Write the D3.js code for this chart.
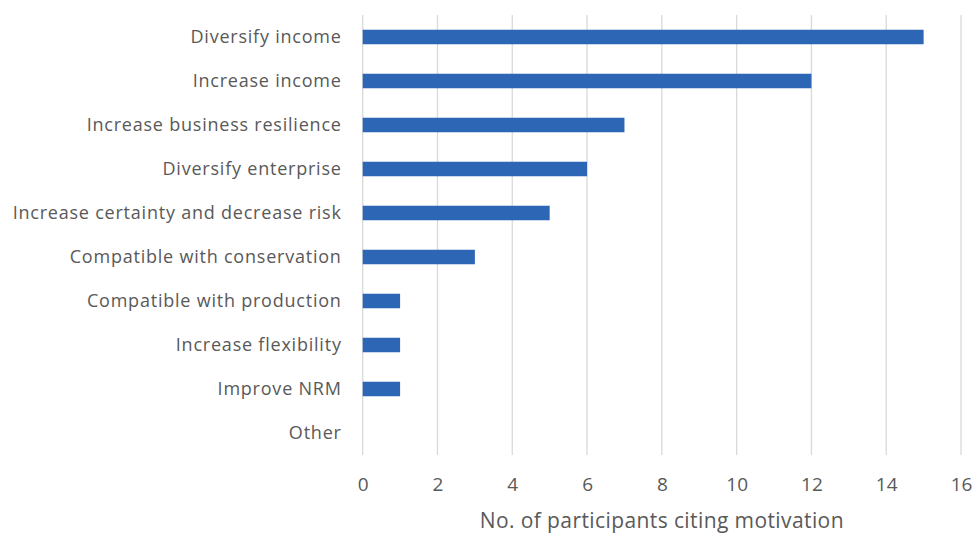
<!DOCTYPE html>
<html><head><meta charset="utf-8">
<script src="https://cdn.jsdelivr.net/npm/d3@7"></script>
<style>html,body{margin:0;padding:0;background:#fff;}svg{display:block;}</style>
</head><body>
<svg id="chart" width="973" height="535"></svg>
<script>
const categories = ["Diversify income","Increase income","Increase business resilience","Diversify enterprise","Increase certainty and decrease risk","Compatible with conservation","Compatible with production","Increase flexibility","Improve NRM","Other"];
const values = [15,12,7,6,5,3,1,1,1,0];
const xTicks = [0,2,4,6,8,10,12,14,16];
const xTitle = "No. of participants citing motivation";

const svg = d3.select("#chart");
const font = "'Open Sans', Lato, sans-serif";
const textColor = "#595959";
const plotLeft = 362.7, plotRight = 961, plotTop = 15, plotBottom = 455;

const x = d3.scaleLinear().domain([0,16]).range([plotLeft,plotRight]);
const y = d3.scaleBand().domain(categories).range([plotTop,plotBottom]).paddingInner(0.67).paddingOuter(0.335);

// gridlines
svg.append("g").selectAll("line").data(xTicks).join("line")
  .attr("x1",d=>x(d)).attr("x2",d=>x(d)).attr("y1",plotTop).attr("y2",plotBottom)
  .attr("stroke","#d9d9d9").attr("stroke-width",1.3);

// bars
svg.append("g").selectAll("rect").data(categories.map((c,i)=>({c,v:values[i]}))).join("rect")
  .attr("x",x(0)).attr("y",d=>y(d.c)).attr("width",d=>x(d.v)-x(0)).attr("height",y.bandwidth())
  .attr("fill","#2E66B6");

// category labels
svg.append("g").selectAll("text").data(categories).join("text")
  .attr("x",plotLeft-21).attr("y",d=>y(d)+y.bandwidth()/2).attr("dy","0.35em")
  .attr("text-anchor","end").attr("font-family",font).attr("font-size",18).attr("letter-spacing","0.78px").attr("fill",textColor)
  .text(d=>d);

// x axis tick labels
const xAxis = d3.axisBottom(x).tickValues(xTicks).tickSize(0).tickPadding(0);
const gx = svg.append("g").attr("transform",`translate(0,${plotBottom})`).call(xAxis);
gx.select(".domain").remove();
gx.selectAll("text").attr("y",29).attr("dy","0.35em").attr("font-family",font).attr("font-size",19).attr("fill",textColor);

// axis title
svg.append("text").attr("x",(plotLeft+plotRight)/2).attr("y",521).attr("dy","0.35em")
  .attr("text-anchor","middle").attr("font-family",font).attr("font-size",21).attr("letter-spacing","0.4px").attr("fill",textColor)
  .text(xTitle);
</script>
</body></html>
